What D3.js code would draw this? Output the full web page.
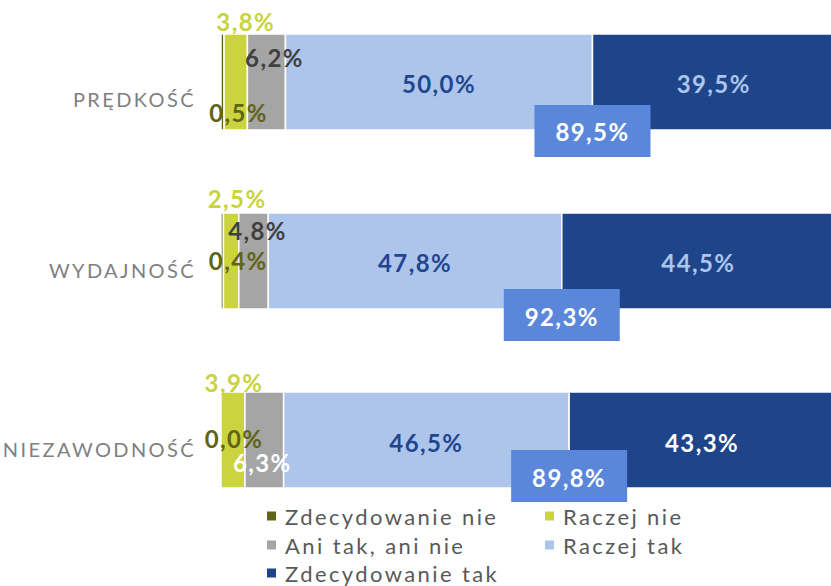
<!DOCTYPE html>
<html>
<head>
<meta charset="utf-8">
<script src="https://cdn.jsdelivr.net/npm/d3@7"></script>
<style>
  html, body { margin: 0; padding: 0; background: #fff; }
  svg { display: block; overflow: hidden; }
</style>
</head>
<body>
<svg id="chart" width="831" height="586"></svg>
<script>
// Survey answers per attribute (percent of respondents)
const categories = ["PRĘDKOŚĆ", "WYDAJNOŚĆ", "NIEZAWODNOŚĆ"];
const seriesNames = ["Zdecydowanie nie", "Raczej nie", "Ani tak, ani nie", "Raczej tak", "Zdecydowanie tak"];
const zdecydowanieNie = [0.5, 0.4, 0.0];
const raczejNie = [3.8, 2.5, 3.9];
const aniTakAniNie = [6.2, 4.8, 6.3];
const raczejTak = [50.0, 47.8, 46.5];
const zdecydowanieTak = [39.5, 44.5, 43.3];

// Styling
const colors = ["#5f6416", "#cbd43e", "#a5a5a5", "#adc5eb", "#1e448a"];
const labelColors = [
  ["#5f6416", "#c9d33d", "#404040", "#1f4690", "#adc5eb"],
  ["#5f6416", "#c9d33d", "#404040", "#1f4690", "#adc5eb"],
  ["#5f6416", "#c9d33d", "#ffffff", "#1f4690", "#ffffff"]
];
// Hand-placed offsets of the small labels [dx, dy] from segment centre / bar centre
const labelNudges = [
  [[16, 31], [10, -60], [8, -24], [0, 2], [0, 2]],
  [[16, -1], [6, -63], [4, -31], [0, 1], [0, 1]],
  [[13, -2], [1, -58], [-2, 22], [0, 2], [0, 2]]
];
const totalBoxTop = [23, 28, 10];
const categoryLabelDy = [17, 9, 9];

const svg = d3.select("#chart");
const fontFamily = "Lato, 'Noto Sans', sans-serif";

const rows = categories.map((c, i) => ({
  category: c,
  values: [zdecydowanieNie[i], raczejNie[i], aniTakAniNie[i], raczejTak[i], zdecydowanieTak[i]]
}));

const x = d3.scaleLinear().domain([0, 100]).range([221, 835]);
const y = d3.scaleBand().domain(categories).range([34, 488]).paddingInner(0.4637).paddingOuter(0);

const fmt = v => d3.format(".1f")(v).replace(".", ",") + "%";

rows.forEach((row, ri) => {
  const g = svg.append("g");
  const y0 = y(row.category);
  const bh = y.bandwidth();
  const yc = y0 + bh / 2;
  let acc = 0;
  const segs = row.values.map((v, si) => {
    const s = { si, v, start: acc, end: acc + v };
    acc += v;
    return s;
  });

  g.selectAll("rect.seg").data(segs).join("rect")
    .attr("class", "seg")
    .attr("x", d => x(d.start))
    .attr("y", y0)
    .attr("width", d => Math.max(0, x(d.end) - x(d.start)))
    .attr("height", bh)
    .attr("fill", d => colors[d.si])
    .attr("stroke", "#fff")
    .attr("stroke-width", 1.5);

  // category label
  svg.append("text")
    .attr("x", 196)
    .attr("y", yc + categoryLabelDy[ri])
    .attr("text-anchor", "end")
    .attr("dominant-baseline", "central")
    .attr("font-family", fontFamily)
    .attr("font-size", 20)
    .attr("letter-spacing", 2.4)
    .attr("fill", "#7f7f7f")
    .text(row.category);

  // value labels
  g.selectAll("text.val").data(segs).join("text")
    .attr("class", "val")
    .attr("x", d => x((d.start + d.end) / 2) + labelNudges[ri][d.si][0])
    .attr("y", d => yc + labelNudges[ri][d.si][1])
    .attr("text-anchor", "middle")
    .attr("dominant-baseline", "central")
    .attr("font-family", fontFamily)
    .attr("font-weight", "bold")
    .attr("font-size", 24)
    .attr("letter-spacing", 1.4)
    .attr("fill", d => labelColors[ri][d.si])
    .text(d => fmt(d.v));

  // total of positive answers
  const positive = row.values[3] + row.values[4];
  const bx = x(row.values[0] + row.values[1] + row.values[2] + row.values[3]);
  const by = yc + totalBoxTop[ri];
  g.append("rect")
    .attr("x", bx - 58)
    .attr("y", by)
    .attr("width", 116)
    .attr("height", 52)
    .attr("fill", "#5a87da");
  g.append("text")
    .attr("x", bx)
    .attr("y", by + 27)
    .attr("text-anchor", "middle")
    .attr("dominant-baseline", "central")
    .attr("font-family", fontFamily)
    .attr("font-weight", "bold")
    .attr("font-size", 24)
    .attr("letter-spacing", 1.4)
    .attr("fill", "#ffffff")
    .text(fmt(positive));
});

// legend
const legendPos = [[267, 516], [545, 516], [267, 545], [545, 545], [267, 573]];
const legend = svg.append("g").selectAll("g").data(seriesNames).join("g")
  .attr("transform", (d, i) => `translate(${legendPos[i][0]},${legendPos[i][1]})`);
legend.append("rect")
  .attr("x", 0).attr("y", -4.5).attr("width", 9).attr("height", 9)
  .attr("fill", (d, i) => colors[i]);
legend.append("text")
  .attr("x", 18).attr("y", 0)
  .attr("dominant-baseline", "central")
  .attr("font-family", fontFamily)
  .attr("font-size", 22)
  .attr("letter-spacing", 2.4)
  .attr("fill", "#595959")
  .text(d => d);
</script>
</body>
</html>
